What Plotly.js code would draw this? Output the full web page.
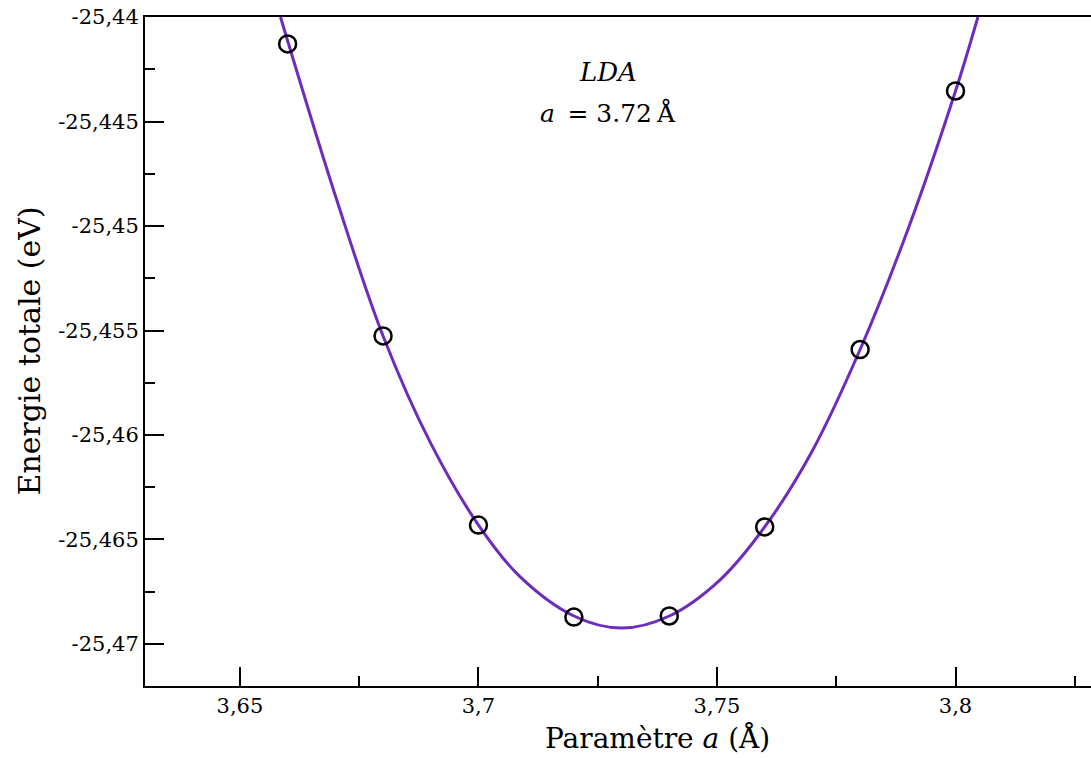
<!DOCTYPE html>
<html>
<head>
<meta charset="utf-8">
<script src="https://cdn.plot.ly/plotly-3.0.1.min.js"></script>
<style>
  html, body { margin: 0; padding: 0; background: #fff; overflow: hidden; }
  #chart { width: 1091px; height: 758px; }
</style>
</head>
<body>
<div id="chart"></div>
<script>
// Computed points (lattice parameter a in Å, total energy in eV)
const latticeA = [3.66, 3.68, 3.70, 3.72, 3.74, 3.76, 3.78, 3.80];
const totalEnergy = [-25.44129, -25.45526, -25.46431, -25.46871, -25.46866, -25.46440, -25.45591, -25.44354];

// Fitted curve
const fitA = [3.6585, 3.6703, 3.6800, 3.6900, 3.7000, 3.7087, 3.7200, 3.7300, 3.7400, 3.7506, 3.7600, 3.7700, 3.7800, 3.7900, 3.8000, 3.8047];
const fitE = [-25.44000, -25.44876, -25.45526, -25.46040, -25.46431, -25.46678, -25.46866, -25.46924, -25.46866, -25.46694, -25.46440, -25.46075, -25.45591, -25.45018, -25.44354, -25.44000];

// Tick labels
const yTickVals = [-25.44, -25.445, -25.45, -25.455, -25.46, -25.465, -25.47];
const yTickText = ["-25,44", "-25,445", "-25,45", "-25,455", "-25,46", "-25,465", "-25,47"];
const xTickVals = [3.65, 3.70, 3.75, 3.80];
const xTickText = ["3,65", "3,7", "3,75", "3,8"];

const serif = "DejaVu Serif";

const traces = [
  {
    x: fitA, y: fitE,
    mode: "lines",
    line: { color: "#6E2BBE", width: 3, shape: "spline", smoothing: 1 },
    hoverinfo: "skip",
    showlegend: false
  },
  {
    x: latticeA, y: totalEnergy,
    mode: "markers",
    marker: { symbol: "circle-open", size: 17, color: "#000", line: { color: "#000", width: 2.5 } },
    showlegend: false
  }
];

const layout = {
  width: 1091, height: 758,
  margin: { l: 145, r: 0, t: 17, b: 72, pad: 0 },
  paper_bgcolor: "#fff", plot_bgcolor: "#fff",
  showlegend: false,
  font: { family: serif, color: "#000", size: 21 },
  xaxis: {
    range: [3.6301, 3.8284],
    showgrid: false, zeroline: false,
    showline: true, linecolor: "#000", linewidth: 2, mirror: true,
    ticks: "inside", ticklen: 19, tickwidth: 2, tickcolor: "#000",
    tickvals: xTickVals, ticktext: xTickText,
    tickfont: { family: serif, size: 21, color: "#000" },
    minor: { dtick: 0.025, tick0: 3.625, ticks: "inside", ticklen: 10, tickwidth: 2, tickcolor: "#000" }
  },
  yaxis: {
    range: [-25.47201, -25.44],
    showgrid: false, zeroline: false,
    showline: true, linecolor: "#000", linewidth: 2, mirror: false,
    ticks: "inside", ticklen: 19, tickwidth: 2, tickcolor: "#000",
    tickvals: yTickVals, ticktext: yTickText,
    tickfont: { family: serif, size: 21, color: "#000" },
    minor: { dtick: 0.0025, tick0: -25.4425, ticks: "inside", ticklen: 10, tickwidth: 2, tickcolor: "#000" }
  },
  annotations: [
    {
      text: "Energie totale (eV)", textangle: -90,
      xref: "paper", yref: "paper", x: -0.1226, y: 0.5,
      xanchor: "center", yanchor: "middle", showarrow: false,
      font: { family: serif, size: 30, color: "#000" }
    },
    {
      text: "Paramètre <i>a</i> (Å)",
      xref: "x", yref: "paper", x: 3.7376, y: -0.079,
      xanchor: "center", yanchor: "middle", showarrow: false,
      font: { family: serif, size: 28, color: "#000" }
    },
    {
      text: "<i>LDA</i>",
      xref: "x", yref: "y", x: 3.7271, y: -25.44263,
      xanchor: "center", yanchor: "middle", showarrow: false,
      font: { family: serif, size: 26, color: "#000" }
    },
    {
      text: "<i>a</i>\u2002= 3.72\u2009Å",
      xref: "x", yref: "y", x: 3.7271, y: -25.44459,
      xanchor: "center", yanchor: "middle", showarrow: false,
      font: { family: serif, size: 25, color: "#000" }
    }
  ]
};

Plotly.newPlot("chart", traces, layout, { displayModeBar: false, staticPlot: true });
</script>
</body>
</html>
